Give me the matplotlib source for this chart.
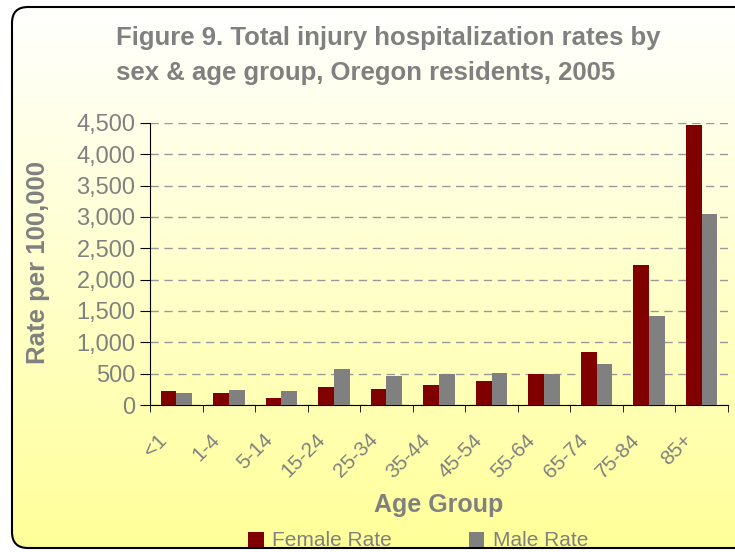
import matplotlib.pyplot as plt
import matplotlib.transforms as mtransforms
import numpy as np
from matplotlib.patches import FancyBboxPatch

plt.rcParams['font.family'] = ['Liberation Sans', 'DejaVu Sans']

# Data
age_groups = ["<1", "1-4", "5-14", "15-24", "25-34", "35-44", "45-54",
              "55-64", "65-74", "75-84", "85+"]
female_rate = [228, 196, 117, 292, 260, 324, 387, 499, 849, 2235, 4464]
male_rate = [196, 244, 228, 579, 467, 499, 515, 499, 658, 1422, 3047]

grey = "#808080"

fig = plt.figure(figsize=(7.35, 5.52), dpi=100)

# background: rounded box with white-to-yellow gradient
bg = fig.add_axes([0, 0, 1, 1])
bg.set_xlim(0, 735)
bg.set_ylim(552, 0)
bg.axis("off")
grad = np.linspace(0, 1, 256).reshape(-1, 1)
cmap = plt.matplotlib.colors.LinearSegmentedColormap.from_list(
    "bgfill", ["#ffffff", "#ffff99"])
box = FancyBboxPatch((12, 7), 740, 541, boxstyle="round,pad=0,rounding_size=16",
                     facecolor="none", edgecolor="black", linewidth=1.5)
bg.add_patch(box)
img = bg.imshow(grad, cmap=cmap, aspect="auto", extent=(12, 752, 548, 7))
img.set_clip_path(box)

ax = fig.add_axes([150 / 735, 1 - 405 / 552, 578 / 735, 282 / 552])
ax.set_facecolor("none")

x = np.arange(len(age_groups))
w = 0.3
ax.bar(x - w / 2, female_rate, w, color="#800000", label="Female Rate", zorder=3)
ax.bar(x + w / 2, male_rate, w, color=grey, label="Male Rate", zorder=3)

ax.set_xlim(-0.5, len(age_groups) - 0.5)
ax.set_ylim(0, 4500)
ax.set_yticks(np.arange(0, 4501, 500))
ax.set_yticklabels([f"{v:,}" for v in range(0, 4501, 500)], fontsize=17, color=grey)
ax.yaxis.grid(True, linestyle=(0, (6, 4)), color="#999999", linewidth=1, zorder=0)

ax.set_xticks(x)
ax.set_xticklabels(age_groups, rotation=45, ha="right", va="center",
                   rotation_mode="anchor", fontsize=15, color=grey)
ax.tick_params(axis="x", which="major", length=0, pad=23)
shift = mtransforms.ScaledTranslation(-0.12, 0, fig.dpi_scale_trans)
for lab in ax.get_xticklabels():
    lab.set_transform(lab.get_transform() + shift)
ax.set_xticks(np.arange(-0.5, len(age_groups)), minor=True)
ax.tick_params(axis="x", which="minor", length=5, direction="out")
ax.tick_params(axis="y", length=7, direction="out")

for s in ["top", "right"]:
    ax.spines[s].set_visible(False)

fig.text(439 / 735, 1 - 505 / 552, "Age Group", fontsize=18, fontweight="bold",
         color=grey, ha="center", va="center")
fig.text(38 / 735, 1 - 263 / 552, "Rate per 100,000", fontsize=18.5, fontweight="bold",
         color=grey, ha="center", va="center", rotation=90)

fig.text(116 / 735, 1 - 38 / 552, "Figure 9. Total injury hospitalization rates by",
         fontsize=18.5, fontweight="bold", color=grey, va="center", ha="left")
fig.text(116 / 735, 1 - 73 / 552, "sex & age group, Oregon residents, 2005",
         fontsize=18.5, fontweight="bold", color=grey, va="center", ha="left")

fig.legend(loc="center", bbox_to_anchor=(418 / 735, 1 - 541 / 552), ncol=2,
           frameon=False, fontsize=15, labelcolor=grey, handlelength=0.75,
           handleheight=0.75, columnspacing=3.7, handletextpad=0.4)

fig.savefig("out.png", dpi=100)
